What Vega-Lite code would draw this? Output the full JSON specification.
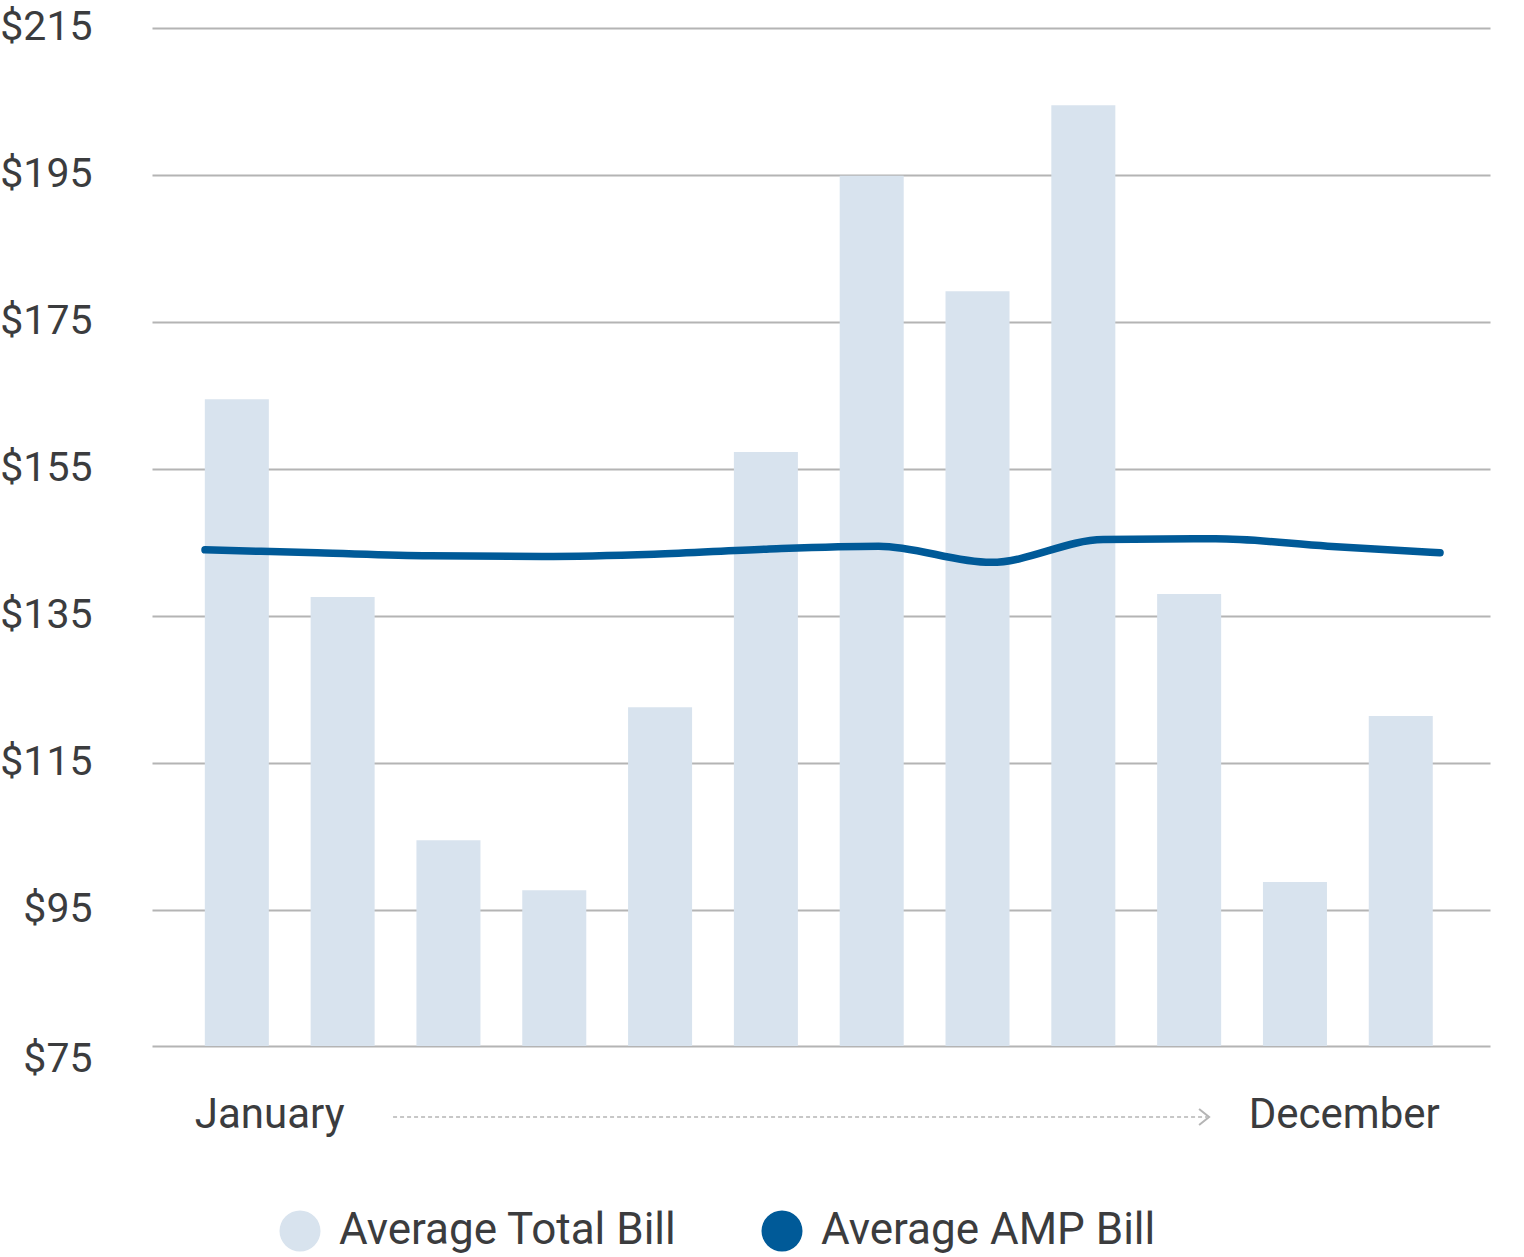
{
  "$schema": "https://vega.github.io/schema/vega-lite/v6.json",
  "width": 1338,
  "height": 1018,
  "autosize": {"type": "none"},
  "padding": {"left": 152, "top": 28, "right": 34, "bottom": 211},
  "background": "white",
  "config": {"view": {"stroke": null}, "font": "Roboto"},
  "datasets": {
    "bars": [
      {"month": "Jan", "value": 164.5, "series": "Average Total Bill"},
      {"month": "Feb", "value": 137.6, "series": "Average Total Bill"},
      {"month": "Mar", "value": 104.5, "series": "Average Total Bill"},
      {"month": "Apr", "value": 97.7, "series": "Average Total Bill"},
      {"month": "May", "value": 122.6, "series": "Average Total Bill"},
      {"month": "Jun", "value": 157.3, "series": "Average Total Bill"},
      {"month": "Jul", "value": 194.9, "series": "Average Total Bill"},
      {"month": "Aug", "value": 179.2, "series": "Average Total Bill"},
      {"month": "Sep", "value": 204.5, "series": "Average Total Bill"},
      {"month": "Oct", "value": 138.0, "series": "Average Total Bill"},
      {"month": "Nov", "value": 98.8, "series": "Average Total Bill"},
      {"month": "Dec", "value": 121.4, "series": "Average Total Bill"}
    ],
    "amp": [
      {"m": 1, "value": 144.0, "series": "Average AMP Bill"},
      {"m": 2, "value": 143.6, "series": "Average AMP Bill"},
      {"m": 3, "value": 143.2, "series": "Average AMP Bill"},
      {"m": 4, "value": 143.1, "series": "Average AMP Bill"},
      {"m": 5, "value": 143.4, "series": "Average AMP Bill"},
      {"m": 6, "value": 144.1, "series": "Average AMP Bill"},
      {"m": 7, "value": 144.5, "series": "Average AMP Bill"},
      {"m": 8, "value": 142.3, "series": "Average AMP Bill"},
      {"m": 9, "value": 145.4, "series": "Average AMP Bill"},
      {"m": 10, "value": 145.5, "series": "Average AMP Bill"},
      {"m": 11, "value": 144.5, "series": "Average AMP Bill"},
      {"m": 12, "value": 143.6, "series": "Average AMP Bill"}
    ],
    "arrow": [
      {"start": 2.675, "end": 9.925, "tip": 9.943, "level": 66.84}
    ]
  },
  "layer": [
    {
      "data": {"name": "bars"},
      "mark": {"type": "bar"},
      "encoding": {
        "x": {
          "field": "month", "type": "ordinal", "sort": null,
          "scale": {"paddingInner": 0.395, "paddingOuter": 0.52, "align": 0.48},
          "axis": {
            "labelExpr": "datum.value == 'Jan' ? 'January' : (datum.value == 'Dec' ? 'December' : '')",
            "title": null, "domain": false, "ticks": false, "grid": false,
            "labelFontSize": 42, "labelColor": "#3b3c3e", "labelFont": "Roboto",
            "labelPadding": 81, "labelBaseline": "alphabetic", "labelAngle": 0,
            "labelAlign": {"condition": {"test": "datum.value == 'Jan'", "value": "left"}, "value": "right"},
            "labelOffset": {"condition": {"test": "datum.value == 'Jan'", "value": -42}, "value": 39},
            "labelOverlap": false, "labelFlush": false, "labelBound": false, "labelLimit": 600
          }
        },
        "y": {
          "field": "value", "type": "quantitative",
          "scale": {"domain": [76.5, 215], "nice": false, "zero": false},
          "axis": {
            "values": [76.5, 95, 115, 135, 155, 175, 195, 215],
            "labelExpr": "datum.value < 80 ? '$75' : '$' + datum.value",
            "title": null, "domain": false, "ticks": false, "grid": true,
            "gridColor": "#b4b4b4", "gridWidth": 2,
            "labelFontSize": 41, "labelColor": "#3b3c3e", "labelFont": "Roboto",
            "labelPadding": 60, "labelBaseline": "alphabetic",
            "labelOffset": {"condition": {"test": "datum.value < 80", "value": 25}, "value": 11},
            "labelOverlap": false, "labelFlush": false, "labelBound": false
          }
        },
        "y2": {"datum": 76.5},
        "color": {
          "field": "series", "type": "nominal",
          "scale": {"domain": ["Average Total Bill", "Average AMP Bill"], "range": ["#d8e3ee", "#005a98"]},
          "legend": {
            "orient": "none", "legendX": 126, "legendY": 1181, "direction": "horizontal",
            "title": null, "symbolType": "circle", "symbolSize": 1681,
            "labelFontSize": 44, "labelColor": "#3b3c3e", "labelFont": "Roboto",
            "labelOffset": 17, "columnPadding": 83, "padding": 0, "labelLimit": 600,
            "symbolStrokeWidth": 0,
            "encode": {"symbols": {"update": {"fill": {"scale": "color", "field": "value"}, "opacity": {"value": 1}}}}
          }
        }
      }
    },
    {
      "data": {"name": "amp"},
      "mark": {"type": "line", "interpolate": "monotone", "strokeWidth": 7.5, "strokeCap": "round"},
      "encoding": {
        "x": {"field": "m", "type": "quantitative", "scale": {"domain": [0.528, 12.445], "nice": false, "zero": false}, "axis": null},
        "y": {"field": "value", "type": "quantitative"},
        "color": {"field": "series", "type": "nominal"}
      }
    },
    {
      "data": {"name": "arrow"},
      "mark": {"type": "rule", "color": "#b5b5b5", "strokeWidth": 1.5, "strokeDash": [4, 3]},
      "encoding": {
        "x": {"field": "start", "type": "quantitative", "scale": {"domain": [0.528, 12.445], "nice": false, "zero": false}, "axis": null},
        "x2": {"field": "end"},
        "y": {"field": "level", "type": "quantitative"}
      }
    },
    {
      "data": {"name": "arrow"},
      "mark": {"type": "point", "shape": "M-1.25,-1L0,0L-1.25,1", "size": 256, "filled": false, "stroke": "#b5b5b5", "strokeWidth": 2, "opacity": 1},
      "encoding": {
        "x": {"field": "tip", "type": "quantitative", "scale": {"domain": [0.528, 12.445], "nice": false, "zero": false}, "axis": null},
        "y": {"field": "level", "type": "quantitative"}
      }
    }
  ],
  "resolve": {"scale": {"x": "independent"}, "axis": {"x": "independent"}}
}
